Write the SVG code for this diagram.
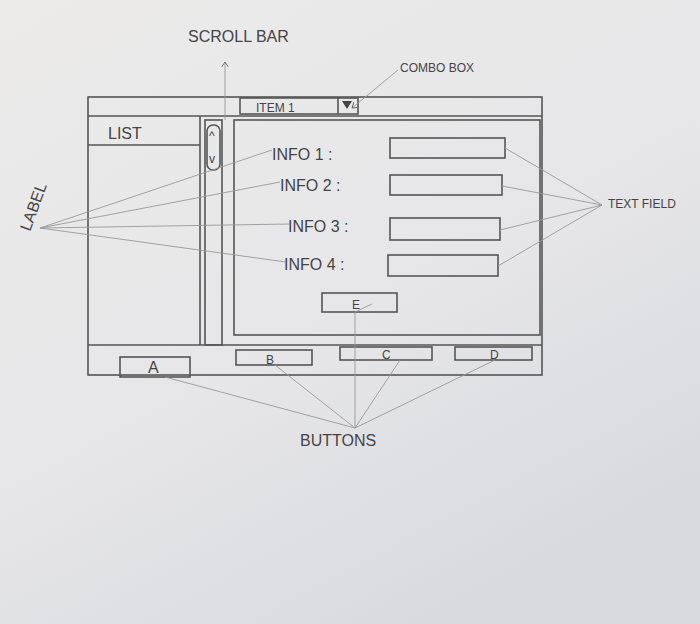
<svg xmlns="http://www.w3.org/2000/svg" width="700" height="624" viewBox="0 0 700 624">
<defs>
<linearGradient id="bg" x1="0" y1="0" x2="0.6" y2="1"><stop offset="0" stop-color="#ecebea"/><stop offset="0.6" stop-color="#e6e6e8"/><stop offset="1" stop-color="#d9dadf"/></linearGradient>
<marker id="ah" markerWidth="8" markerHeight="8" refX="6" refY="4" orient="auto"><path d="M0,0 L6,4 L0,8" fill="none" stroke="#666" stroke-width="1"/></marker>
</defs>
<style>
.s{fill:none;stroke:#555;stroke-width:1.6}
.t{fill:none;stroke:#999;stroke-width:0.9}
text{font-family:"Liberation Sans",sans-serif;fill:#444;font-size:16px}
.sm{font-size:12px}
</style>
<rect width="700" height="624" fill="url(#bg)"/>
<g id="window">
<rect class="s" x="88" y="97" width="454" height="278"/>
<line class="s" x1="88" y1="116" x2="542" y2="116"/>
<line class="s" x1="88" y1="345" x2="542" y2="345"/>
</g>
<g id="combo"><rect class="s" x="240" y="98" width="118" height="16"/><line class="s" x1="338" y1="98" x2="338" y2="114"/><path d="M342,101 L352,101 L347,109Z" fill="#444"/><text x="256" y="112" class="sm">ITEM 1</text></g>
<g id="list"><line class="s" x1="88" y1="145" x2="200" y2="145"/><line class="s" x1="200" y1="116" x2="200" y2="345"/><text x="108" y="139" font-size="18">LIST</text></g>
<g id="scrollbar"><rect class="s" x="205" y="120" width="17" height="225"/><rect class="s" x="207" y="125" width="13" height="45" rx="6"/><text x="209" y="140" class="sm">^</text><text x="209" y="163" class="sm">v</text></g>
<g id="content"><rect class="s" x="234" y="120" width="306" height="215"/></g>
<g id="info"><text x="272" y="160">INFO 1 :</text><text x="280" y="191">INFO 2 :</text><text x="288" y="232">INFO 3 :</text><text x="284" y="270">INFO 4 :</text></g>
<g id="fields"><rect class="s" x="390" y="138" width="115" height="20"/><rect class="s" x="390" y="175" width="112" height="20"/><rect class="s" x="390" y="218" width="110" height="22"/><rect class="s" x="388" y="255" width="110" height="21"/></g>
<g id="buttons"><rect class="s" x="322" y="293" width="75" height="19"/><text x="352" y="309" class="sm">E</text>
<rect class="s" x="120" y="357" width="70" height="20"/><text x="148" y="373">A</text>
<rect class="s" x="236" y="350" width="76" height="15"/><text x="266" y="364" class="sm">B</text>
<rect class="s" x="340" y="347" width="92" height="13"/><text x="382" y="359" class="sm">C</text>
<rect class="s" x="455" y="347" width="77" height="13"/><text x="490" y="359" class="sm">D</text></g>
<g id="connectors">
<line class="t" x1="40" y1="228" x2="272" y2="150"/><line class="t" x1="40" y1="228" x2="280" y2="182"/><line class="t" x1="40" y1="228" x2="290" y2="224"/><line class="t" x1="40" y1="228" x2="286" y2="262"/>
<line class="t" x1="602" y1="205" x2="505" y2="148"/><line class="t" x1="602" y1="205" x2="502" y2="186"/><line class="t" x1="602" y1="205" x2="500" y2="230"/><line class="t" x1="602" y1="205" x2="498" y2="266"/>
<line class="t" x1="355" y1="428" x2="165" y2="377"/><line class="t" x1="355" y1="428" x2="275" y2="365"/><line class="t" x1="355" y1="428" x2="400" y2="360"/><line class="t" x1="355" y1="428" x2="495" y2="360"/><line class="t" x1="355" y1="428" x2="355" y2="312"/><path class="t" d="M355,312 L372,304"/>
<line class="t" x1="225" y1="120" x2="225" y2="62" marker-end="url(#ah)"/>
<line class="t" x1="398" y1="70" x2="352" y2="108" marker-end="url(#ah)"/>
</g>
<g id="annotations">
<text x="188" y="42">SCROLL BAR</text>
<text x="400" y="72" class="sm">COMBO BOX</text>
<text x="608" y="208" class="sm">TEXT FIELD</text>
<text x="300" y="446" font-size="18">BUTTONS</text>
<text transform="translate(30,232) rotate(-70)">LABEL</text>
</g>
</svg>
